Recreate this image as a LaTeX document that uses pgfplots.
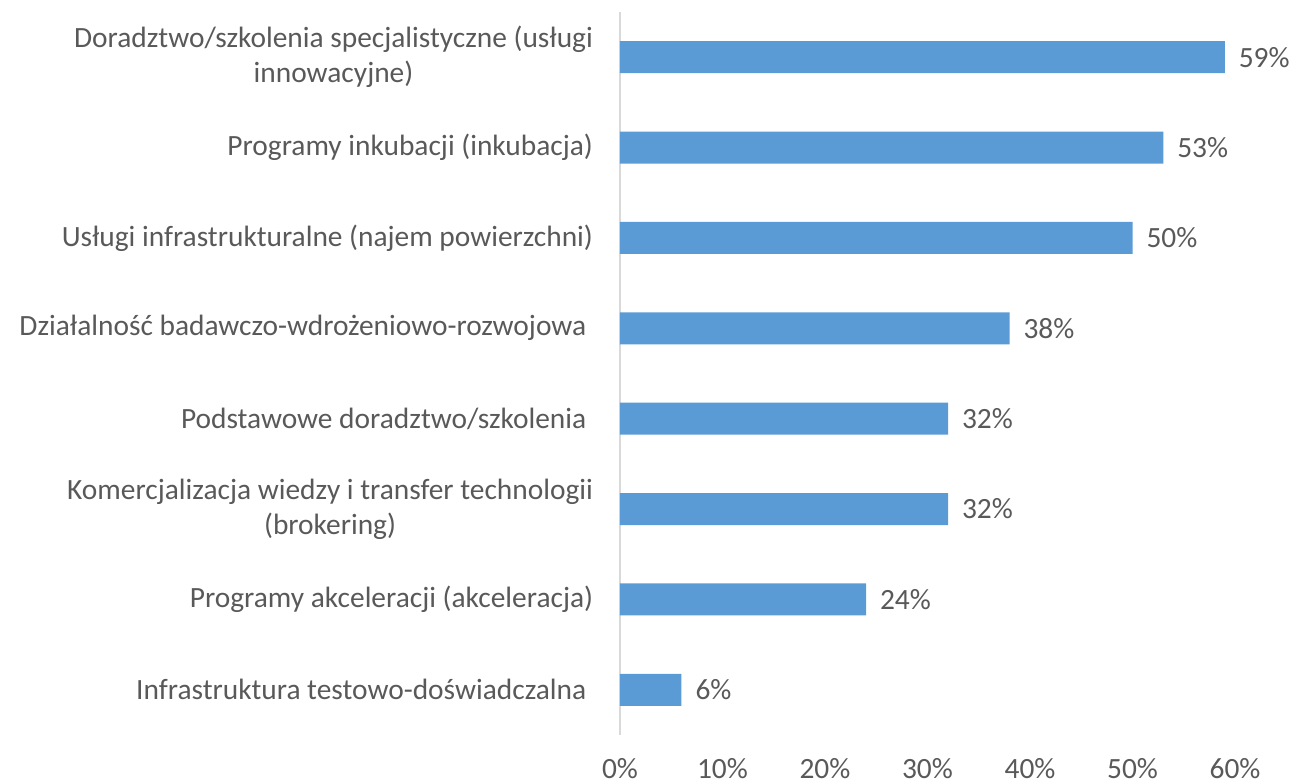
\documentclass[border=0pt]{standalone}
\usepackage{pgfplots}
\pgfplotsset{compat=1.18}
\usepackage{fontspec}
\setmainfont{Carlito}
\definecolor{barblue}{HTML}{5B9BD5}
\definecolor{txt}{HTML}{595959}
\definecolor{axgray}{HTML}{D9D9D9}
\begin{document}
\begin{tikzpicture}
\begin{axis}[
  scale only axis,
  width=307.5pt, height=361.5pt,
  xbar, bar width=16pt,
  xmin=0, xmax=60,
  ymin=-0.5, ymax=7.5,
  y dir=reverse,
  axis x line=bottom, axis y line=left,
  x axis line style={draw=none},
  y axis line style={draw=axgray, line width=0.8pt, -},
  major tick length=0pt,
  xtick={0,10,20,30,40,50,60},
  xticklabels={0\%,10\%,20\%,30\%,40\%,50\%,60\%},
  ytick={0,1,2,3,4,5,6,7},
  yticklabels={
    {Doradztwo/szkolenia specjalistyczne (usługi\\innowacyjne)},
    {Programy inkubacji (inkubacja)},
    {Usługi infrastrukturalne (najem powierzchni)},
    {Działalność badawczo-wdrożeniowo-rozwojowa\ },
    {Podstawowe doradztwo/szkolenia\ },
    {Komercjalizacja wiedzy i transfer technologii\\(brokering)},
    {Programy akceleracji (akceleracja)},
    {Infrastruktura testowo-doświadczalna\ }},
  yticklabel style={align=center, font=\fontsize{14.7}{17.5}\selectfont, text=txt, xshift=-10pt},
  xticklabel style={font=\fontsize{14.7}{17.5}\selectfont, text=txt, yshift=-8pt},
  /pgf/number format/assume math mode=true,
  nodes near coords={\pgfmathprintnumber{\pgfplotspointmeta}\%},
  every node near coord/.append style={font=\fontsize{14.7}{17.5}\selectfont, text=txt, anchor=west, xshift=3.5pt},
  clip=false,
]
\addplot[fill=barblue, draw=none] coordinates {
  (59,0) (53,1) (50,2) (38,3) (32,4) (32,5) (24,6) (6,7)
};
\end{axis}
\pgfresetboundingbox
\path ([xshift=-310pt,yshift=-24.5pt]current axis.south west) rectangle ([xshift=28.5pt,yshift=6pt]current axis.north east);
\end{tikzpicture}
\end{document}
